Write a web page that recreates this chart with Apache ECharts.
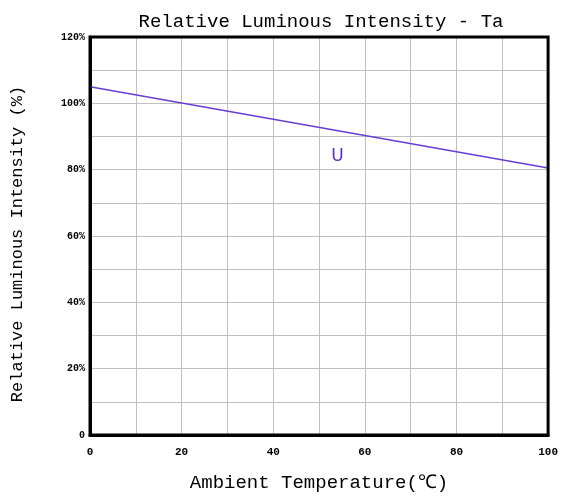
<!DOCTYPE html>
<html><head><meta charset="utf-8">
<script src="https://cdn.jsdelivr.net/npm/echarts@6/dist/echarts.min.js"></script>
<style>html,body{margin:0;padding:0;background:#fff}#c{width:561px;height:497px}</style>
</head><body><div id="c"></div>
<script>
const temperature = [0, 100];
const intensity = [105, 80.5];
const xTicks = [0, 20, 40, 60, 80, 100];
const yTicks = [0, 20, 40, 60, 80, 100, 120];
const seriesLabel = 'U';
const labelPos = [54, 84];

const chart = echarts.init(document.getElementById('c'));
const mono = 'Liberation Mono';
chart.setOption({
  backgroundColor: '#fff',
  animation: false,
  title: {
    text: 'Relative Luminous Intensity - Ta',
    left: 316, top: 7, textAlign: 'center',
    textStyle: {fontFamily: mono, fontSize: 19, fontWeight: 'normal', color: '#000'}
  },
  grid: {left: 90, right: 12, top: 37, bottom: 61, show: true, borderColor: '#000', borderWidth: 3, z: 10},
  xAxis: {
    type: 'value', min: 0, max: 100, interval: 10,
    name: 'Ambient Temperature(℃)', nameLocation: 'middle', nameGap: 38,
    nameTextStyle: {fontFamily: mono, fontSize: 19, color: '#000'},
    axisLine: {show: true, lineStyle: {color: '#000', width: 3}},
    axisTick: {show: false},
    splitLine: {show: true, showMinLine: false, showMaxLine: false, lineStyle: {color: '#c0c0c0', width: 1}},
    axisLabel: {
      margin: 12, fontFamily: mono, fontSize: 11, fontWeight: 'bold', color: '#000',
      formatter: v => xTicks.includes(v) ? String(v) : ''
    }
  },
  yAxis: {
    type: 'value', min: 0, max: 120, interval: 10,
    name: 'Relative Luminous Intensity (%)', nameLocation: 'middle', nameGap: 64,
    nameTextStyle: {fontFamily: mono, fontSize: 17, color: '#000', padding: [0, 16, 0, 0]},
    axisLine: {show: true, lineStyle: {color: '#000', width: 3}},
    axisTick: {show: false},
    splitLine: {show: true, showMinLine: false, showMaxLine: false, lineStyle: {color: '#c0c0c0', width: 1}},
    axisLabel: {
      margin: 5, fontFamily: mono, fontSize: 10, fontWeight: 'bold', color: '#000',
      formatter: v => yTicks.includes(v) ? (v === 0 ? '0' : v + '%') : ''
    }
  },
  series: [{
    type: 'line',
    data: temperature.map((t, i) => [t, intensity[i]]),
    symbol: 'none',
    lineStyle: {color: '#6a3cd6', width: 1.5},
    markPoint: {
      symbol: 'circle', symbolSize: 0,
      data: [{coord: labelPos}],
      label: {show: true, formatter: seriesLabel, position: 'inside', color: '#5a2fc4', fontFamily: 'DejaVu Sans', fontSize: 17}
    }
  }]
});
</script></body></html>
